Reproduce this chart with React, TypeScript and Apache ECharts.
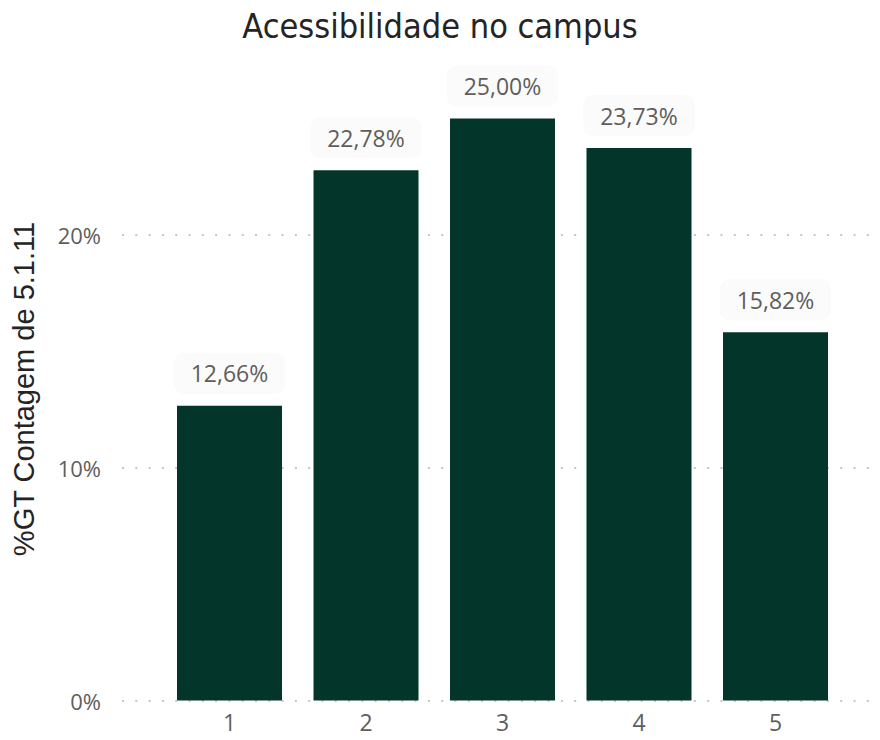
import React, { useEffect, useRef } from "react";
import * as echarts from "echarts";

const titleText = "Acessibilidade no campus";
const yAxisTitle = "%GT Contagem de 5.1.11";
const categories = ["1", "2", "3", "4", "5"];
const values = [12.66, 22.78, 25.0, 23.73, 15.82];
const yMax = 28;
const yInterval = 10;

const fmtPct = (v: number) => v.toFixed(2).replace(".", ",") + "%";

export default function App() {
  const ref = useRef<HTMLDivElement>(null);
  useEffect(() => {
    document.body.style.margin = "0";
    if (!ref.current) return;
    const chart = echarts.init(ref.current, null, { renderer: "svg" });
    const top = 48.7;
    const bottom = 39.5;
    chart.setOption({
      animation: false,
      backgroundColor: "#ffffff",
      title: {
        text: titleText,
        left: "center",
        top: 4,
        textStyle: {
          fontFamily: "'DejaVu Sans Condensed', 'DejaVu Sans', sans-serif",
          fontSize: 34,
          fontWeight: "normal",
          color: "#252423",
        },
      },
      graphic: [
        {
          type: "text",
          x: 24,
          y: 389,
          rotation: Math.PI / 2,
          style: {
            text: yAxisTitle,
            fontFamily: "'Liberation Sans', Arial, sans-serif",
            fontSize: 29,
            fill: "#252423",
            align: "center",
            verticalAlign: "middle",
          },
        },
      ],
      grid: [
        { left: 161.25, right: 36.25, top, bottom },
        { left: 122, right: 2, top, bottom },
      ],
      xAxis: [
        {
          type: "category",
          gridIndex: 0,
          data: categories,
          axisLine: { show: false },
          axisTick: { show: false },
          axisLabel: {
            color: "#605E5C",
            fontSize: 23,
            margin: 10,
            fontFamily: "'Open Sans', 'Noto Sans', sans-serif",
          },
        },
        {
          type: "category",
          gridIndex: 1,
          data: categories,
          show: false,
        },
      ],
      yAxis: [
        {
          type: "value",
          gridIndex: 0,
          min: 0,
          max: yMax,
          interval: yInterval,
          show: false,
          splitLine: { show: false },
        },
        {
          type: "value",
          gridIndex: 1,
          min: 0,
          max: yMax,
          interval: yInterval,
          axisLine: { show: false },
          axisTick: { show: false },
          axisLabel: {
            formatter: (v: number) => `${v}%`,
            color: "#605E5C",
            fontSize: 22,
            margin: 21,
            showMaxLabel: false,
            fontFamily: "'Open Sans', 'Noto Sans', sans-serif",
          },
          splitLine: {
            show: true,
            showMaxLine: false,
            lineStyle: { color: "#c8c6c4", width: 2, type: [2, 11.3] },
          },
        },
      ],
      series: [
        {
          type: "bar",
          xAxisIndex: 0,
          yAxisIndex: 0,
          data: values,
          barWidth: 105,
          itemStyle: { color: "#03352A" },
          z: 3,
          label: {
            show: true,
            position: "top",
            distance: 12,
            formatter: (p: any) => fmtPct(p.value),
            color: "#605E5C",
            fontSize: 23,
            fontFamily: "'Open Sans', 'Noto Sans', sans-serif",
            backgroundColor: "#fbfbfb",
            borderRadius: 10,
            padding: [9, 17, 9, 17],
          },
        },
      ],
    });
    return () => chart.dispose();
  }, []);
  return <div ref={ref} style={{ width: 880, height: 740 }} />;
}
